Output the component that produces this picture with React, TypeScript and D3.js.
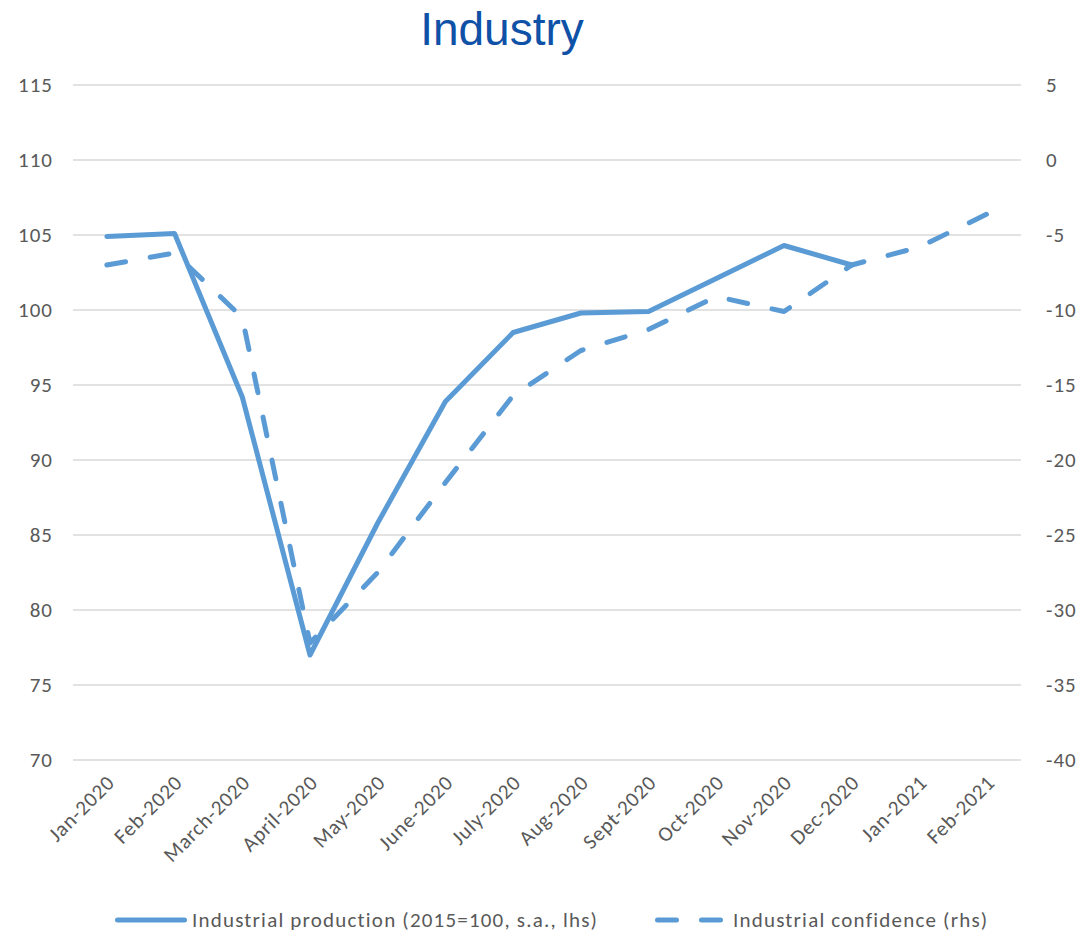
import React from "react";
import * as d3 from "d3";

const categories = ["Jan-2020","Feb-2020","March-2020","April-2020","May-2020","June-2020","July-2020","Aug-2020","Sept-2020","Oct-2020","Nov-2020","Dec-2020","Jan-2021","Feb-2021"];
const production: (number | null)[] = [104.9, 105.1, 94.2, 77.0, 85.8, 93.9, 98.5, 99.8, 99.9, 102.1, 104.3, 103.0, null, null];
const confidence: (number | null)[] = [-7.0, -6.2, -10.5, -32.2, -27.5, -21.5, -15.7, -12.7, -11.3, -9.1, -10.1, -7.0, -5.8, -3.6];
const leftTicks = [70, 75, 80, 85, 90, 95, 100, 105, 110, 115];
const rightTicks = [-40, -35, -30, -25, -20, -15, -10, -5, 0, 5];
const legendLabels = ["Industrial production (2015=100, s.a., lhs)", "Industrial confidence (rhs)"];
const title = "Industry";

const W = 1082, H = 936;
const plot = { left: 73, right: 1021, top: 85, bottom: 760 };
const color = "#5B9BD5";
const textColor = "#595959";
const font = "Carlito, Calibri, Lato, sans-serif";

export default function App() {
  const x = d3.scaleBand<string>().domain(categories).range([plot.left, plot.right]).padding(0);
  const cx = (c: string) => (x(c) as number) + x.bandwidth() / 2;
  const yL = d3.scaleLinear().domain([70, 115]).range([plot.bottom, plot.top]);
  const yR = d3.scaleLinear().domain([-40, 5]).range([plot.bottom, plot.top]);

  const lineL = d3.line<number | null>()
    .defined((d) => d !== null)
    .x((_, i) => cx(categories[i]))
    .y((d) => yL(d as number));
  const lineR = d3.line<number | null>()
    .defined((d) => d !== null)
    .x((_, i) => cx(categories[i]))
    .y((d) => yR(d as number));

  return (
    <svg width={W} height={H} style={{ position: "absolute", left: 0, top: 0, background: "#fff" }}>
      <rect x={0} y={0} width={W} height={H} fill="#fff" />
      <text x={502} y={45} textAnchor="middle" fontFamily="Liberation Sans, Arial, sans-serif" fontSize={46} fill="#0E51A7">{title}</text>

      {leftTicks.map((t) => (
        <line key={"g" + t} x1={plot.left} x2={plot.right} y1={yL(t)} y2={yL(t)} stroke="#D9D9D9" strokeWidth={1.5} />
      ))}
      {leftTicks.map((t) => (
        <text key={"l" + t} x={53} y={yL(t)} dy="0.35em" textAnchor="end" fontFamily={font} fontSize={21} letterSpacing={1} fill={textColor}>{t}</text>
      ))}
      {rightTicks.map((t) => (
        <text key={"r" + t} x={1046} y={yR(t)} dy="0.35em" textAnchor="start" fontFamily={font} fontSize={21} letterSpacing={1} fill={textColor}>{t}</text>
      ))}
      {categories.map((c) => (
        <text key={"c" + c} transform={`translate(${cx(c) + 9},${plot.bottom + 24}) rotate(-45)`} textAnchor="end" fontFamily={font} fontSize={21} letterSpacing={0.8} fill={textColor}>{c}</text>
      ))}

      <path d={lineR(confidence) || ""} fill="none" stroke={color} strokeWidth={5} strokeDasharray="19,25" strokeLinecap="round" strokeLinejoin="round" />
      <path d={lineL(production) || ""} fill="none" stroke={color} strokeWidth={5} strokeLinecap="round" strokeLinejoin="round" />

      <line x1={117.5} x2={184.5} y1={920} y2={920} stroke={color} strokeWidth={5} strokeLinecap="round" />
      <text x={192} y={920} dy="0.35em" fontFamily={font} fontSize={21} letterSpacing={1.2} fill={textColor}>{legendLabels[0]}</text>
      <line x1={657.5} x2={720.5} y1={920} y2={920} stroke={color} strokeWidth={5} strokeLinecap="round" strokeDasharray="19,25" />
      <text x={733} y={920} dy="0.35em" fontFamily={font} fontSize={21} letterSpacing={1.2} fill={textColor}>{legendLabels[1]}</text>
    </svg>
  );
}
